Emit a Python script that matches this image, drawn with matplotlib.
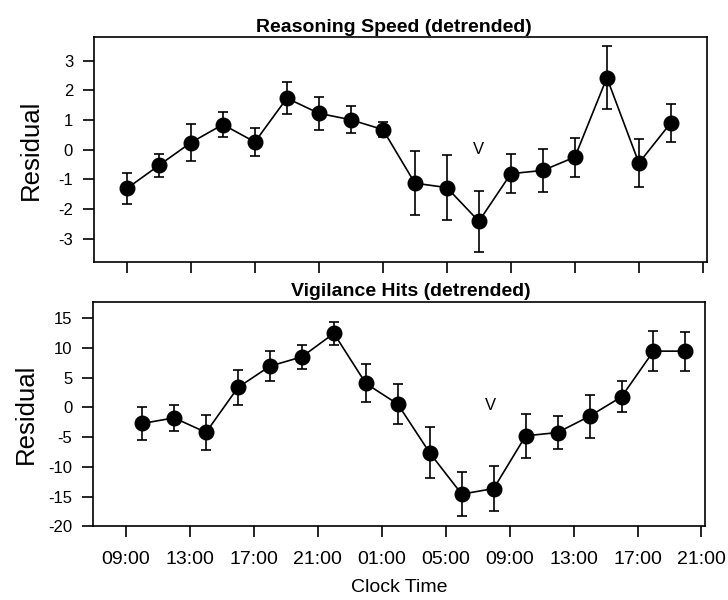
import matplotlib
matplotlib.use("Agg")
from matplotlib import pyplot as plt

plt.rcParams['font.family'] = ['Liberation Sans', 'DejaVu Sans']
plt.rcParams['axes.unicode_minus'] = False

# hours after 09:00 on day 1
tick_hours = [0, 4, 8, 12, 16, 20, 24, 28, 32, 36]
tick_labels = ["09:00", "13:00", "17:00", "21:00", "01:00", "05:00",
               "09:00", "13:00", "17:00", "21:00"]

reasoning_hours = [0, 2, 4, 6, 8, 10, 12, 14, 16, 18, 20, 22, 24, 26, 28, 30, 32, 34]
reasoning_resid = [-1.31, -0.53, 0.24, 0.85, 0.26, 1.74, 1.23, 1.01, 0.68,
                   -1.13, -1.28, -2.42, -0.81, -0.70, -0.25, 2.43, -0.45, 0.91]
reasoning_err = [0.53, 0.40, 0.63, 0.41, 0.47, 0.55, 0.56, 0.45, 0.25,
                 1.08, 1.09, 1.02, 0.65, 0.74, 0.66, 1.06, 0.81, 0.65]

vigilance_hours = [1, 3, 5, 7, 9, 11, 13, 15, 17, 19, 21, 23, 25, 27, 29, 31, 33, 35]
vigilance_resid = [-2.7, -1.75, -4.2, 3.37, 6.96, 8.53, 12.48, 4.05, 0.56,
                   -7.65, -14.6, -13.66, -4.78, -4.22, -1.47, 1.79, 9.49, 9.49]
vigilance_err = [2.84, 2.2, 3.0, 2.95, 2.5, 2.0, 2.0, 3.2, 3.4,
                 4.3, 3.65, 3.75, 3.65, 2.8, 3.6, 2.6, 3.35, 3.3]

fig = plt.figure(figsize=(7.28, 6.0), dpi=100)
ax1 = fig.add_axes([0.129, 0.563, 0.842, 0.375])
ax2 = fig.add_axes([0.128, 0.123, 0.841, 0.374])

style = dict(fmt='o-', color='black', ms=10.5, lw=1.2, elinewidth=1.2,
             capsize=3.6, capthick=1.2)

ax1.errorbar(reasoning_hours, reasoning_resid, yerr=reasoning_err, **style)
ax1.set_ylim(-3.8, 3.8)
ax1.set_yticks([-3, -2, -1, 0, 1, 2, 3])
ax1.set_title("Reasoning Speed (detrended)", fontsize=14, fontweight='bold',
              pad=4, x=0.489)
ax1.text(22, 0.0, "V", fontsize=12, ha='center', va='center')
ax1.yaxis.set_label_coords(-0.083, 0.396)

ax2.errorbar(vigilance_hours, vigilance_resid, yerr=vigilance_err, **style)
ax2.set_ylim(-20, 17.8)
ax2.set_yticks([-20, -15, -10, -5, 0, 5, 10, 15])
ax2.set_title("Vigilance Hits (detrended)", fontsize=14, fontweight='bold',
              pad=4, x=0.518)
ax2.text(22.8, 0.4, "V", fontsize=12, ha='center', va='center')
ax2.set_xlabel("Clock Time", fontsize=14, labelpad=8)
ax2.yaxis.set_label_coords(-0.09, 0.544)

for ax in (ax1, ax2):
    ax.set_xlim(-2.06, 36.25)
    ax.set_xticks(tick_hours)
    ax.set_ylabel("Residual", fontsize=18.5)
    ax.tick_params(direction='out', length=8, width=1.2, labelsize=12)
    ax.tick_params(axis='y', pad=7)
    for sp in ax.spines.values():
        sp.set_linewidth(1.2)

ax1.set_xticklabels([])
ax2.set_xticklabels(tick_labels, fontsize=14)
ax2.tick_params(axis='x', pad=10)

fig.savefig("out.png", dpi=100)
